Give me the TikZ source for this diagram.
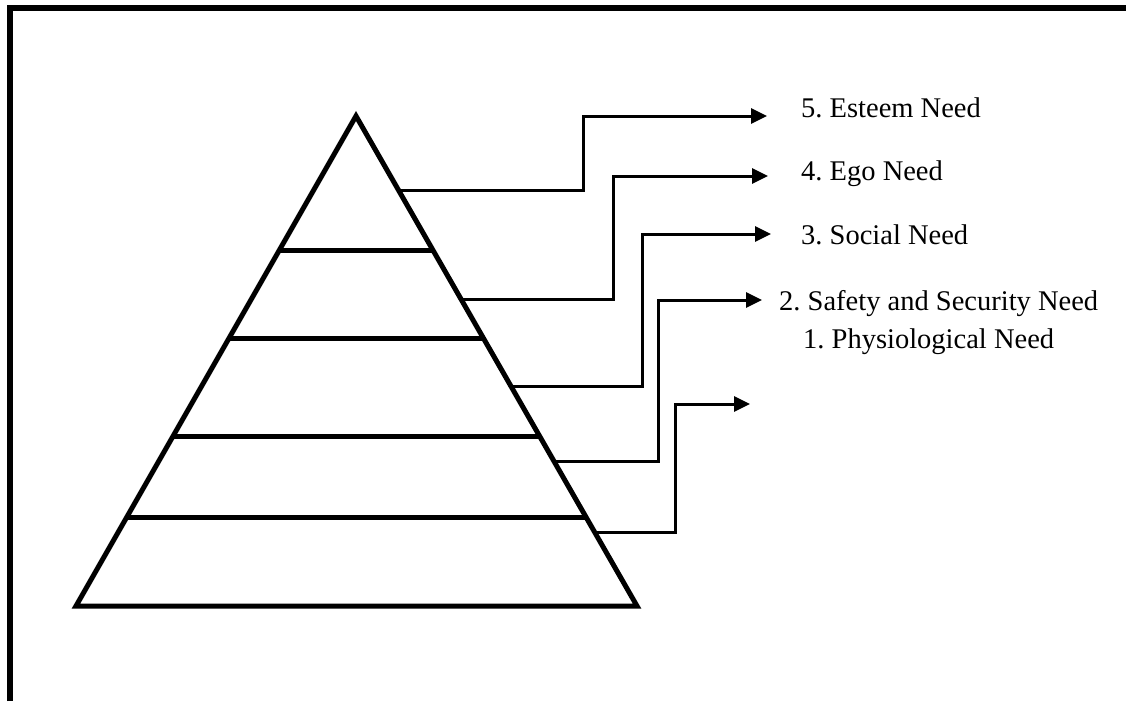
\documentclass[tikz,border=0pt]{standalone}
\usepackage{fontspec}
\setmainfont{Liberation Serif}
\frenchspacing
\usetikzlibrary{arrows.meta,calc}
\tikzset{
  frameline/.style={line width=6pt},
  pyr/.style={line width=5pt, line join=miter},
  band/.style={line width=5pt},
  conn/.style={line width=3pt, -{Triangle[length=16pt,width=15pt]}},
  lbl/.style={anchor=base west, inner sep=0pt, font=\fontsize{28.5}{33}\selectfont}
}
\begin{document}
\begin{tikzpicture}[x=1pt,y=-1pt]
\useasboundingbox (0,0) rectangle (1126,701);
% frame (top and left only)
\draw[frameline] (10,701) -- (10,8) -- (1126,8);
% pyramid
\coordinate (apex) at (356,116);
\coordinate (bl) at (76,606);
\coordinate (br) at (637,606);
\draw[pyr] (apex) -- (bl) -- (br) -- cycle;
\foreach \t in {0.2735,0.455,0.655,0.820}{
  \draw[band] ($(apex)!\t!(bl)$) -- ($(apex)!\t!(br)$);
}
% connector start points on right edge
\coordinate (s5) at ($(apex)!0.153!(br)$);
\coordinate (s4) at ($(apex)!0.3735!(br)$);
\coordinate (s3) at ($(apex)!0.553!(br)$);
\coordinate (s2) at ($(apex)!0.706!(br)$);
\coordinate (s1) at ($(apex)!0.851!(br)$);
% bends
\coordinate (j5) at (583,116);
\coordinate (j4) at (613,176);
\coordinate (j3) at (642,234);
\coordinate (j2) at (658,300);
\coordinate (j1) at (675,404);
% arrow tips
\coordinate (t5) at (767,116);
\coordinate (t4) at (768,176);
\coordinate (t3) at (771,234);
\coordinate (t2) at (762,300);
\coordinate (t1) at (750,404);
\draw[conn] (s5) -- (s5 -| j5) |- (t5);
\draw[conn] (s4) -- (s4 -| j4) |- (t4);
\draw[conn] (s3) -- (s3 -| j3) |- (t3);
\draw[conn] (s2) -- (s2 -| j2) |- (t2);
\draw[conn] (s1) -- (s1 -| j1) |- (t1);
% labels
\node[lbl] (n5) at (801,117) {5. Esteem Need};
\node[lbl] (n4) at (801,180) {4. Ego Need};
\node[lbl] (n3) at (801,244) {3. Social Need};
\node[lbl] (n2) at (779,310) {2. Safety and Security Need};
\node[lbl] (n1) at (803,348) {1. Physiological Need};
\end{tikzpicture}
\end{document}
